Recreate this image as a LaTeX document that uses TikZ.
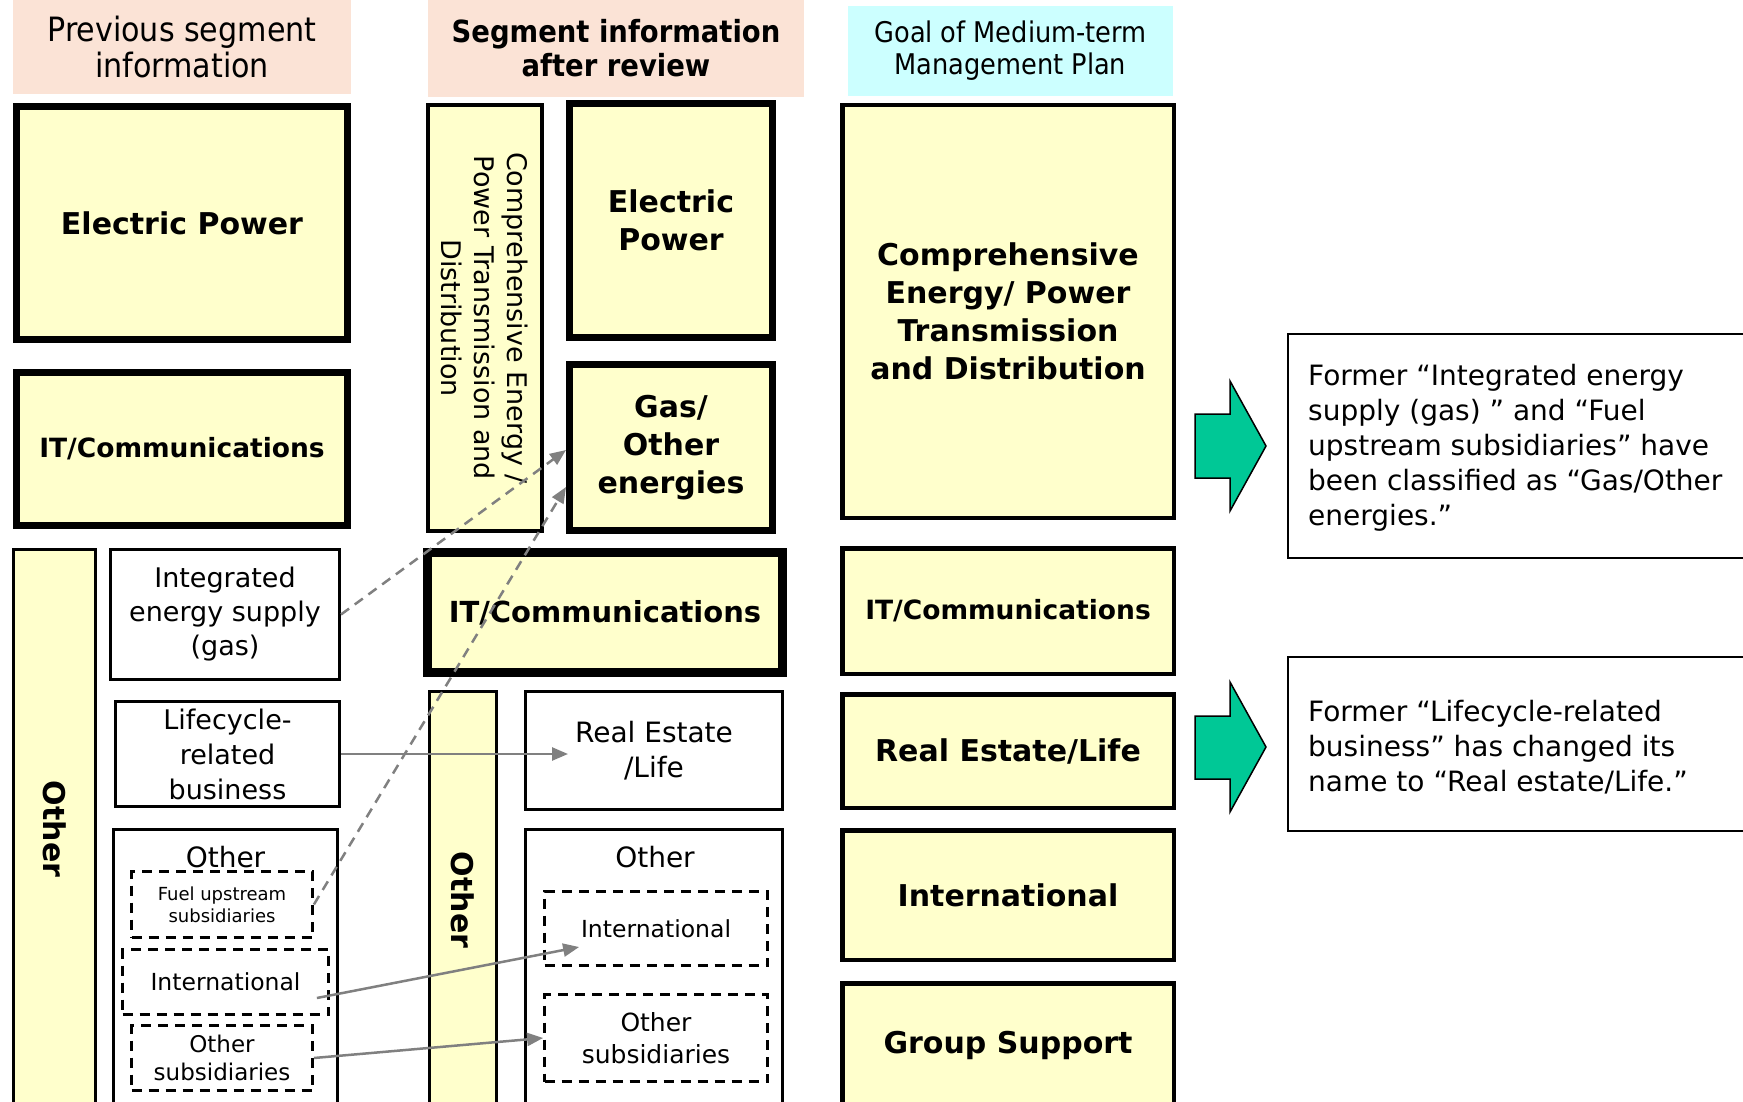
\documentclass[tikz,border=0pt]{standalone}
\usepackage{fontspec}
\setmainfont{DejaVu Sans}
\newfontfamily\condfont{DejaVu Sans Condensed}
\usetikzlibrary{arrows.meta}
\definecolor{ylw}{HTML}{FFFFCC}
\definecolor{peach}{HTML}{FBE3D6}
\definecolor{cyanbg}{HTML}{CCFFFF}
\definecolor{grn}{HTML}{00C896}
\definecolor{arrgray}{HTML}{808080}
\tikzset{
 hdr/.style={inner sep=0pt, font=\condfont\fontsize{33.5}{36}\selectfont, align=center},
 seg/.style={draw=black, fill=ylw, inner sep=0pt, align=center, font=\bfseries\fontsize{30}{38}\selectfont},
 wbox/.style={draw=black, line width=3pt, fill=white, inner sep=0pt, align=center, font=\fontsize{27}{34}\selectfont},
 dbox/.style={draw=black, line width=2.8pt, dash pattern=on 10pt off 7pt, fill=white, inner sep=0pt, align=center},
 conn/.style={draw=arrgray, line width=2.5pt, -{Triangle[length=16pt,width=13pt]}},
 dconn/.style={conn, dash pattern=on 10pt off 7pt},
 note/.style={draw=black, line width=2pt, fill=white, inner sep=0pt},
 notetext/.style={inner sep=0pt, align=left, anchor=west, font=\fontsize{28}{35}\selectfont},
 bigarrow/.style={fill=grn, draw=black, line width=1.5pt},
 heading/.style={inner sep=0pt, font=\fontsize{28}{34}\selectfont},
}
\begin{document}
\begin{tikzpicture}[x=1pt,y=-1pt]
\clip (0,0) rectangle (1743,1102);
\fill[white] (0,0) rectangle (1743,1102);
% headers
\node[hdr, fill=peach, minimum width=338pt, minimum height=94pt] (h1) at (182,47) {Previous segment\\information};
\node[hdr, fill=peach, minimum width=376pt, minimum height=97pt, font=\condfont\bfseries\fontsize{30.5}{34}\selectfont] (h2) at (616,48.5) {Segment information\\after review};
\node[hdr, fill=cyanbg, minimum width=325pt, minimum height=90pt, font=\condfont\fontsize{28.5}{32}\selectfont] (h3) at (1010.5,51) {Goal of Medium-term\\Management Plan};
% column 1
\node[seg, line width=7pt, minimum width=331pt, minimum height=233pt] (ep1) at (182,223) {Electric Power};
\node[seg, line width=7pt, minimum width=331pt, minimum height=153pt, font=\bfseries\fontsize{26.5}{32}\selectfont] (it1) at (182,449) {IT/Communications};
\node[seg, line width=3pt, rotate=-90, minimum width=559pt, minimum height=82pt] (oth1) at (54.5,829) {Other};
\node[wbox, minimum width=229pt, minimum height=130pt] (integ) at (225,614.5) {Integrated\\energy supply\\(gas)};
\node[wbox, minimum width=224pt, minimum height=105pt, font=\fontsize{27}{35}\selectfont] (life) at (227.5,754) {Lifecycle-\\related\\business};
\node[wbox, minimum width=224pt, minimum height=279pt] (ob1) at (225.5,969) {};
\node[heading] (ob1t) at (225.5,857) {Other};
\node[dbox, minimum width=181pt, minimum height=66pt, font=\fontsize{18}{22}\selectfont] (fuel) at (222,904.5) {Fuel upstream\\subsidiaries};
\node[dbox, minimum width=206pt, minimum height=65pt, font=\fontsize{23.5}{28}\selectfont] (intl1) at (225.5,982) {International};
\node[dbox, minimum width=181pt, minimum height=65pt, font=\fontsize{23}{28}\selectfont] (os1) at (222,1058) {Other\\subsidiaries};
% column 2
\node[seg, line width=3.5pt, rotate=-90, minimum width=426pt, minimum height=114pt, font=\fontsize{27}{33}\selectfont] (comp2) at (485,318) {Comprehensive Energy /\\Power Transmission and\\Distribution};
\node[seg, line width=7pt, minimum width=203pt, minimum height=234pt] (ep2) at (671,220.5) {Electric\\Power};
\node[seg, line width=7pt, minimum width=203pt, minimum height=166pt] (gas2) at (671,447.5) {Gas/\\Other\\energies};
\node[seg, line width=9pt, minimum width=355pt, minimum height=120pt, font=\bfseries\fontsize{29}{34}\selectfont] (it2) at (605,612.5) {IT/Communications};
\node[seg, line width=3pt, rotate=-90, minimum width=417pt, minimum height=67pt] (oth2) at (463,900) {Other};
\node[wbox, minimum width=257pt, minimum height=118pt, font=\fontsize{28}{35}\selectfont] (re2) at (654,750.5) {Real Estate\\/Life};
\node[wbox, minimum width=257pt, minimum height=279pt] (ob2) at (654,969) {};
\node[heading] (ob2t) at (655,857) {Other};
\node[dbox, minimum width=223pt, minimum height=74pt, font=\fontsize{23.5}{28}\selectfont] (intl2) at (656,928.5) {International};
\node[dbox, minimum width=223pt, minimum height=87pt, font=\fontsize{25}{32}\selectfont] (os2) at (656,1038) {Other\\subsidiaries};
% column 3
\node[seg, line width=4.5pt, minimum width=331.5pt, minimum height=412.5pt] (comp3) at (1008,311.5) {Comprehensive\\Energy/ Power\\Transmission\\and Distribution};
\node[seg, line width=4.5pt, minimum width=331.5pt, minimum height=125.5pt, font=\bfseries\fontsize{26.5}{32}\selectfont] (it3) at (1008,611) {IT/Communications};
\node[seg, line width=4.5pt, minimum width=331.5pt, minimum height=113.5pt] (re3) at (1008,751) {Real Estate/Life};
\node[seg, line width=4.5pt, minimum width=331.5pt, minimum height=129.5pt] (intl3) at (1008,895) {International};
\node[seg, line width=4.5pt, minimum width=331.5pt, minimum height=124.5pt] (gs3) at (1008,1045.5) {Group Support};
% green arrows
\path[bigarrow] (1195,414) -- (1230,414) -- (1230,381) -- (1266,446) -- (1230,511) -- (1230,478) -- (1195,478) -- cycle;
\path[bigarrow] (1195,716) -- (1230,716) -- (1230,682) -- (1266,747) -- (1230,812) -- (1230,779) -- (1195,779) -- cycle;
% notes
\node[note, minimum width=481pt, minimum height=224pt] (n1) at (1528.5,446) {};
\node[notetext] (n1t) at (1308,448) {Former “Integrated energy\\supply (gas) ” and “Fuel\\upstream subsidiaries” have\\been classified as “Gas/Other\\energies.”};
\node[note, minimum width=481pt, minimum height=174pt] (n2) at (1528.5,744) {};
\node[notetext] (n2t) at (1308,747) {Former “Lifecycle-related\\business” has changed its\\name to “Real estate/Life.”};
% connectors
\coordinate (lifeend) at ([xshift=44pt]re2.west |- life.east);
\draw[dconn] (integ.east) -- ([yshift=-2.5pt]gas2.west);
\draw[dconn] (fuel.east) -- ([yshift=-39.5pt]gas2.west);
\draw[conn] (life.east) -- (lifeend);
\draw[conn] ([xshift=-13pt,yshift=-16pt]intl1.east) -- ([xshift=36pt,yshift=-18.5pt]intl2.west);
\draw[conn] (os1.east) -- (os2.west);
\end{tikzpicture}
\end{document}
